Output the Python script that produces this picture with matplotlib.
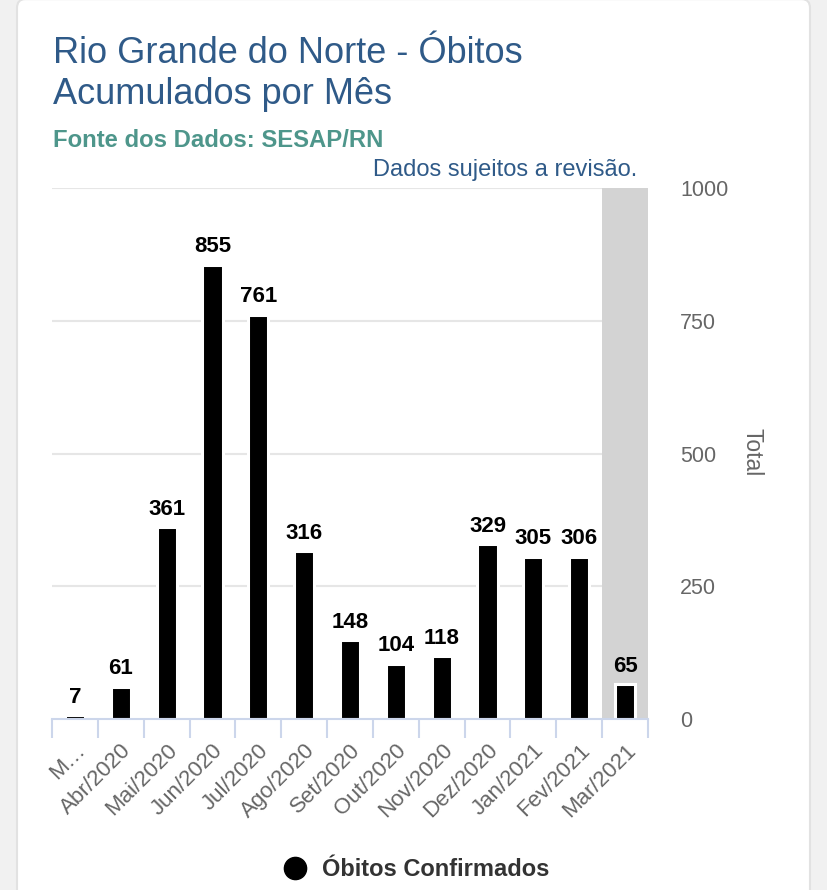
import matplotlib
matplotlib.use('Agg')
import matplotlib.pyplot as plt
from matplotlib.patches import FancyBboxPatch
from matplotlib.lines import Line2D

# data
meses = ['M…', 'Abr/2020', 'Mai/2020', 'Jun/2020', 'Jul/2020', 'Ago/2020',
         'Set/2020', 'Out/2020', 'Nov/2020', 'Dez/2020', 'Jan/2021',
         'Fev/2021', 'Mar/2021']
obitos = [7, 61, 361, 855, 761, 316, 148, 104, 118, 329, 305, 306, 65]
y_ticks = [0, 250, 500, 750, 1000]

plt.rcParams['font.family'] = ['Liberation Sans', 'DejaVu Sans']

W, H = 828, 890
fig = plt.figure(figsize=(W / 100, H / 100), dpi=100)
fig.patch.set_facecolor('#f1f1f1')

# white card behind everything
card = FancyBboxPatch((17 / W, -0.05), (810 - 17) / W, 1.05 + 0.001,
                      boxstyle='round,pad=0,rounding_size=0.01',
                      transform=fig.transFigure, facecolor='white',
                      edgecolor='#e2e2e2', linewidth=1.5, zorder=-10)
fig.add_artist(card)

left, right, bottom, top = 52, 648, 719, 188
ax = fig.add_axes([left / W, 1 - bottom / H, (right - left) / W, (bottom - top) / H])
ax.set_facecolor('none')

x = list(range(len(meses)))
ax.axvspan(len(meses) - 1.5, len(meses) - 0.5, color='#d3d3d3', zorder=1, lw=0)
ax.bar(x, obitos, width=0.44, color='black', edgecolor='white',
       linewidth=2.2, zorder=3)
for xi, v in zip(x, obitos):
    ax.annotate(str(v), (xi, v), xytext=(0, 5.5), textcoords='offset points',
                ha='center', va='bottom', fontsize=16, fontweight='bold',
                color='black', zorder=4)

ax.set_xlim(-0.5, len(meses) - 0.5)
ax.set_ylim(0, 1000)

for sp in ['top', 'left', 'right']:
    ax.spines[sp].set_visible(False)
ax.spines['bottom'].set_color('#ccd6eb')
ax.spines['bottom'].set_linewidth(1.5)
ax.spines['bottom'].set_zorder(5)

for t in y_ticks[1:]:
    ax.axhline(t, color='#e6e6e6', lw=1.5, zorder=0.5)

ax.yaxis.tick_right()
ax.set_yticks(y_ticks)
ax.set_yticklabels([str(t) for t in y_ticks])
ax.tick_params(axis='y', length=0, pad=23, labelsize=15.5, labelcolor='#666666')
ax.text(1.1745, 0.503, 'Total', rotation=270, ha='center', va='center',
        fontsize=16.5, color='#666666', transform=ax.transAxes)

ax.set_xticks(x)
ax.set_xticklabels(meses, rotation=45, ha='right', rotation_mode='anchor',
                   fontsize=16, color='#666666')
ax.tick_params(axis='x', which='major', length=0, pad=15)
ax.set_xticks([i - 0.5 for i in range(len(meses) + 1)], minor=True)
ax.tick_params(axis='x', which='minor', length=14, width=1.5, color='#ccd6eb')

# titles
fig.text(53 / W, 1 - 63 / H, 'Rio Grande do Norte - Óbitos', fontsize=26,
         color='#2f5a88', va='baseline', ha='left')
fig.text(53 / W, 1 - 104 / H, 'Acumulados por Mês', fontsize=26,
         color='#2f5a88', va='baseline', ha='left')
fig.text(53 / W, 1 - 147 / H, 'Fonte dos Dados: SESAP/RN', fontsize=17.2,
         fontweight='bold', color='#4e968b', va='baseline', ha='left')
fig.text(637 / W, 1 - 176 / H, 'Dados sujeitos a revisão.', fontsize=17,
         color='#2f5a88', va='baseline', ha='right')

# legend
handle = Line2D([], [], marker='o', color='black', linestyle='none', markersize=16)
leg = fig.legend([handle], ['Óbitos Confirmados'], loc='center',
                 bbox_to_anchor=(410 / W, 1 - 870 / H), frameon=False,
                 prop={'size': 17, 'weight': 'bold'}, handletextpad=0.15)
for txt in leg.get_texts():
    txt.set_color('#333333')

fig.savefig('out.png', dpi=100, facecolor=fig.get_facecolor())
